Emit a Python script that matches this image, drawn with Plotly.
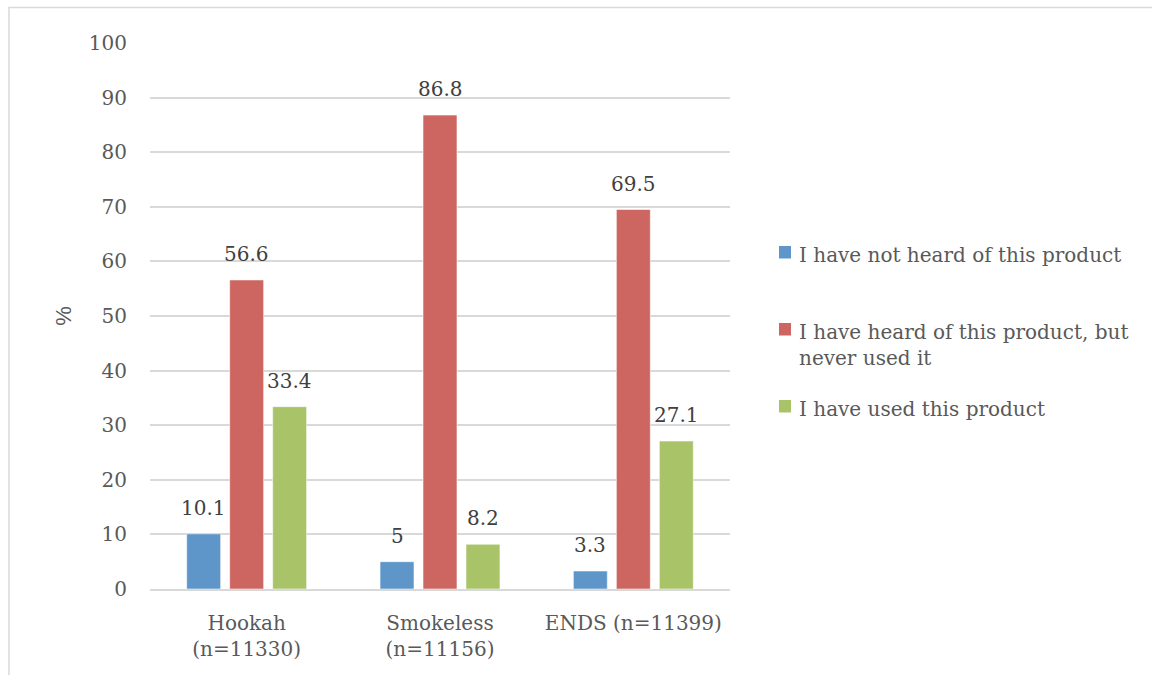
import plotly.graph_objects as go

categories = ["Hookah<br>(n=11330)", "Smokeless<br>(n=11156)", "ENDS (n=11399)"]
series_names = [
    "I have not heard of this product",
    "I have heard of this product, but<br>never used it",
    "I have used this product",
]
not_heard = [10.1, 5, 3.3]
heard_never_used = [56.6, 86.8, 69.5]
used = [33.4, 8.2, 27.1]
y_ticks = [0, 10, 20, 30, 40, 50, 60, 70, 80, 90, 100]

series_values = [not_heard, heard_never_used, used]
colors = ["#5E96CA", "#CD6560", "#A9C468"]
text_color = "#595959"
label_color = "#404040"
serif = "DejaVu Serif"

# page and plot-area geometry (pixels)
W, H = 1152, 675
L, R, T, B = 150, 422, 43, 86
pw, ph = W - L - R, H - T - B
BARGAP, GROUPGAP = 0.333, 0.21


def px_x(p):
    return (p - L) / pw


def px_y(p):
    return 1 - (p - T) / ph


fig = go.Figure()
for name, vals, col in zip(series_names, series_values, colors):
    fig.add_trace(go.Bar(
        x=categories, y=vals, name=name,
        marker=dict(color=col, line=dict(color="rgba(255,255,255,0.55)", width=1)),
        showlegend=False,
    ))

# value labels above each bar
slot = pw / len(categories) * (1 - BARGAP) / len(series_values)
annotations = []
for i, vals in enumerate(series_values):
    for cat, v in zip(categories, vals):
        annotations.append(dict(
            x=cat, y=v, xref="x", yref="y", text=f"{v:g}", showarrow=False,
            xanchor="center", yanchor="bottom", xshift=(i - 1) * slot, yshift=12,
            font=dict(family=serif, size=20, color=label_color),
        ))

# legend: colour squares with their captions
legend_rows = [252, 329, 406]
shapes = []
for name, col, yc in zip(series_names, colors, legend_rows):
    shapes.append(dict(
        type="rect", xref="paper", yref="paper",
        x0=px_x(779), x1=px_x(791), y0=px_y(yc + 6.5), y1=px_y(yc - 6),
        fillcolor=col, line=dict(width=0),
    ))
    annotations.append(dict(
        x=px_x(797), y=px_y(yc - 11), xref="paper", yref="paper", text=name,
        showarrow=False, xanchor="left", yanchor="top", align="left",
        font=dict(family=serif, size=20, color=text_color),
    ))

# outer chart frame
shapes.append(dict(
    type="rect", xref="paper", yref="paper",
    x0=px_x(9), x1=px_x(1200), y0=px_y(720), y1=px_y(7.5),
    line=dict(color="#D9D9D9", width=1.5), fillcolor="rgba(0,0,0,0)", layer="below",
))

fig.update_layout(
    width=W, height=H,
    margin=dict(l=L, r=R, t=T, b=B, autoexpand=False),
    paper_bgcolor="white", plot_bgcolor="white",
    barmode="group", bargap=BARGAP, bargroupgap=GROUPGAP,
    font=dict(family=serif, color=text_color, size=20),
    showlegend=False,
    xaxis=dict(
        tickfont=dict(family=serif, size=20, color=text_color),
        showline=True, linecolor="#D9D9D9", linewidth=1.5, ticks="",
        ticklabelstandoff=15,
    ),
    yaxis=dict(
        range=[0, 100], tickvals=y_ticks, showgrid=True, gridcolor="#D9D9D9", gridwidth=1.5,
        zeroline=False, tickfont=dict(family=serif, size=20, color=text_color),
        ticks="", ticklabelstandoff=22,
        title=dict(text="%", font=dict(family="Liberation Sans", size=22, color=text_color), standoff=11),
    ),
    annotations=annotations,
    shapes=shapes,
)

fig.write_html("out.html")
